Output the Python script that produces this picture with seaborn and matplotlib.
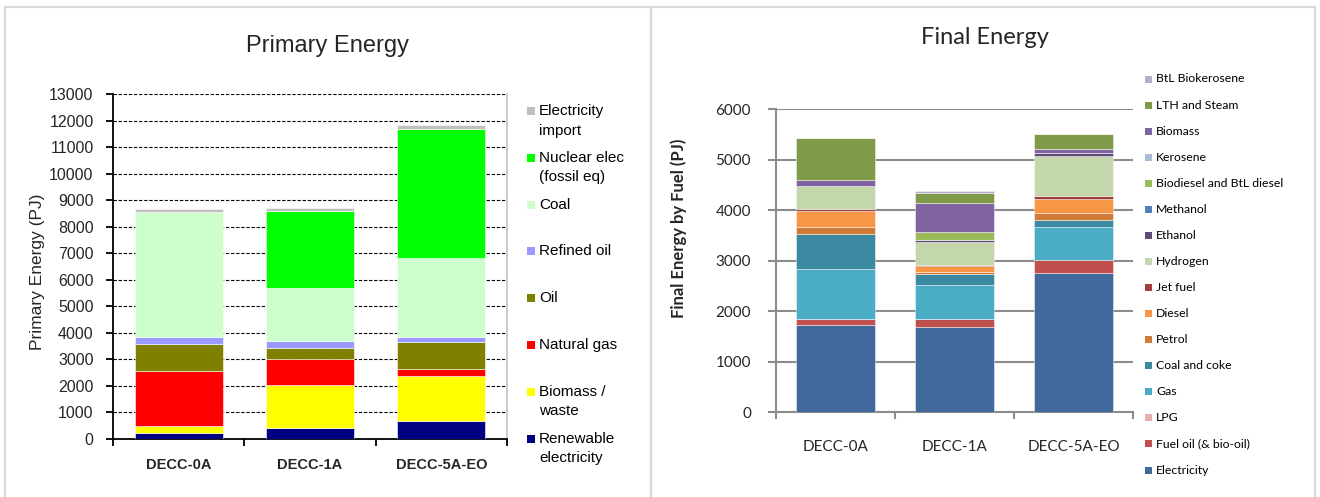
import numpy as np
import matplotlib
matplotlib.use("Agg")
import matplotlib.pyplot as plt
from matplotlib.patches import Rectangle
from matplotlib.ticker import MultipleLocator, FixedLocator, NullFormatter
import seaborn as sns

sns.set_style("white")
plt.rcParams["font.family"] = ["Liberation Sans", "DejaVu Sans"]

# ---------------------------------------------------------------- data
scenarios = ["DECC-0A", "DECC-1A", "DECC-5A-EO"]

# Primary energy by source (PJ), listed bottom of stack to top
primary_labels = ["Renewable\nelectricity", "Biomass /\nwaste", "Natural gas", "Oil",
                  "Refined oil", "Coal", "Nuclear elec\n(fossil eq)", "Electricity\nimport"]
renewable_elec = [230, 430, 690]
biomass_waste = [260, 1590, 1695]
natural_gas = [2085, 995, 265]
oil = [1015, 425, 995]
refined_oil = [255, 255, 200]
coal = [4695, 2010, 2965]
nuclear_elec = [0, 2890, 4885]
elec_import = [115, 110, 125]
primary_colors = ["#000080", "#FFFF00", "#FF0000", "#808000",
                  "#9999FF", "#CCFFCC", "#00FF00", "#C0C0C0"]

# Final energy by fuel (PJ), listed bottom of stack to top
final_labels = ["Electricity", "Fuel oil (& bio-oil)", "LPG", "Gas", "Coal and coke",
                "Petrol", "Diesel", "Jet fuel", "Hydrogen", "Ethanol", "Methanol",
                "Biodiesel and BtL diesel", "Kerosene", "Biomass", "LTH and Steam",
                "BtL Biokerosene"]
electricity = [1730, 1690, 2765]
fuel_oil = [120, 165, 260]
lpg = [0, 0, 0]
gas = [990, 665, 645]
coal_coke = [690, 215, 145]
petrol = [145, 50, 130]
diesel = [305, 115, 280]
jet_fuel = [55, 25, 50]
hydrogen = [455, 440, 805]
ethanol = [0, 50, 55]
methanol = [0, 0, 0]
biodiesel = [0, 165, 0]
kerosene = [0, 0, 0]
biomass = [110, 570, 80]
lth_steam = [825, 195, 295]
btl_biokerosene = [0, 40, 0]
final_colors = ["#41699C", "#C0504D", "#E6B0B0", "#4BACC6", "#3B8AA2", "#D07B3A",
                "#F79646", "#A33D3B", "#C4D6AB", "#604A7B", "#4F81BD", "#9BBB59",
                "#A9BAD9", "#8064A2", "#7F9A48", "#B7ADCB"]

primary_series = [renewable_elec, biomass_waste, natural_gas, oil, refined_oil,
                  coal, nuclear_elec, elec_import]
final_series = [electricity, fuel_oil, lpg, gas, coal_coke, petrol, diesel, jet_fuel,
                hydrogen, ethanol, methanol, biodiesel, kerosene, biomass, lth_steam,
                btl_biokerosene]

# ---------------------------------------------------------------- figure
W, H = 1320, 497
fig = plt.figure(figsize=(W / 100, H / 100), dpi=100)
fig.patch.set_facecolor("white")


def fx(px):
    return px / W


def fy(py):
    return 1 - py / H


# panel frames
for x0, x1 in [(5, 651), (651, 1315)]:
    fig.add_artist(Rectangle((fx(x0), fy(510)), fx(x1 - x0), (510 - 7) / H,
                             transform=fig.transFigure, fill=False,
                             edgecolor="#D9D9D9", linewidth=1.6))


def stacked_bars(ax, series, colors, width, edge):
    base = np.zeros(len(scenarios))
    for vals, col in zip(series, colors):
        sns.barplot(x=scenarios, y=vals, order=scenarios, bottom=base.copy(),
                    color=col, width=width, saturation=1, errorbar=None, ax=ax,
                    edgecolor=edge, linewidth=0.7, zorder=3)
        base += np.asarray(vals, dtype=float)


def legend_column(labels, colors, x_marker, x_text, y_first, step, box, size,
                  family, line_step):
    for i, (lab, col) in enumerate(zip(labels, colors)):
        y = y_first + i * step
        fig.add_artist(Rectangle((fx(x_marker), fy(y + box / 2)), box / W, box / H,
                                 transform=fig.transFigure, facecolor=col,
                                 edgecolor="none"))
        for k, line in enumerate(lab.split("\n")):
            fig.text(fx(x_text), fy(y + k * line_step), line, ha="left",
                     va="center", fontsize=size, family=family, color="black")


# ---------------------------------------------------------------- primary energy
ax1 = fig.add_axes([fx(113), fy(439), fx(507 - 113), (439 - 94) / H])
stacked_bars(ax1, primary_series, primary_colors, 0.67, (1, 1, 1, 0.55))
ax1.set_xlim(-0.5, 2.5)
ax1.set_ylim(0, 13000)
ax1.yaxis.set_major_locator(MultipleLocator(1000))
ax1.yaxis.grid(True, color="black", linestyle=(0, (3.0, 1.6)), linewidth=0.8)
ax1.set_axisbelow(True)
# the top gridline doubles as the plot-area border, drawn in grey
ax1.yaxis.get_gridlines()[-1].set_color("#A0A0A0")
ax1.spines["top"].set_visible(False)
for side in ["left", "bottom"]:
    ax1.spines[side].set_color("black")
    ax1.spines[side].set_linewidth(1.3)
ax1.spines["right"].set_color("#C8C8C8")
ax1.spines["right"].set_linewidth(1.3)
ax1.xaxis.set_minor_locator(FixedLocator([-0.5, 0.5, 1.5, 2.5]))
ax1.xaxis.set_minor_formatter(NullFormatter())
ax1.tick_params(axis="x", which="major", length=0, pad=14, labelsize=10.5)
ax1.tick_params(axis="x", which="minor", length=5, width=1.3, color="black",
                direction="out", bottom=True)
ax1.tick_params(axis="y", length=5, width=1.3, color="black", direction="out",
                left=True, pad=9, labelsize=11.5)
for t in ax1.get_xticklabels():
    t.set_fontweight("bold")
ax1.set_xlabel("")
ax1.set_ylabel("Primary Energy (PJ)", fontsize=12.5)
ax1.yaxis.set_label_coords((45 - 113) / 394, (439 - 272) / 345)
fig.text(fx(328), fy(46), "Primary Energy", ha="center", va="center", fontsize=17)

legend_column(primary_labels[::-1], primary_colors[::-1], 527, 539, 111, 46.8, 8,
              11, ["Liberation Sans", "DejaVu Sans"], 19.5)

# ---------------------------------------------------------------- final energy
lato = ["Lato", "DejaVu Sans"]
ax2 = fig.add_axes([fx(776), fy(412.3), fx(1133 - 776), (412.3 - 109.3) / H])
stacked_bars(ax2, final_series, final_colors, 0.665, (1, 1, 1, 0.45))
ax2.set_xlim(-0.5, 2.5)
ax2.set_ylim(0, 6000)
ax2.yaxis.set_major_locator(MultipleLocator(1000))
ax2.yaxis.grid(True, color="#8C8C8C", linestyle="-", linewidth=1.5)
ax2.set_axisbelow(True)
for side in ["top", "right"]:
    ax2.spines[side].set_visible(False)
for side in ["left", "bottom"]:
    ax2.spines[side].set_color("#8C8C8C")
    ax2.spines[side].set_linewidth(1.5)
ax2.xaxis.set_minor_locator(FixedLocator([-0.5, 0.5, 1.5, 2.5]))
ax2.xaxis.set_minor_formatter(NullFormatter())
ax2.tick_params(axis="x", which="major", length=0, pad=20, labelsize=11)
ax2.tick_params(axis="x", which="minor", length=5, width=1.5, color="#8C8C8C",
                direction="out", bottom=True)
ax2.tick_params(axis="y", length=6, width=1.5, color="#8C8C8C", direction="out",
                left=True, pad=12, labelsize=11)
for t in ax2.get_xticklabels() + ax2.get_yticklabels():
    t.set_family(lato)
ax2.set_xlabel("")
ax2.set_ylabel("Final Energy by Fuel (PJ)", fontsize=12, fontweight="bold",
               family=lato)
ax2.yaxis.set_label_coords((687 - 776) / 357, (412.3 - 228) / 303)
fig.text(fx(984.5), fy(38), "Final Energy", ha="center", va="center",
         fontsize=17, family=lato)

legend_column(final_labels[::-1], final_colors[::-1], 1145, 1156, 79, 26.07, 7,
              8.8, lato, 0)

fig.savefig("out.png", dpi=100, facecolor="white")
